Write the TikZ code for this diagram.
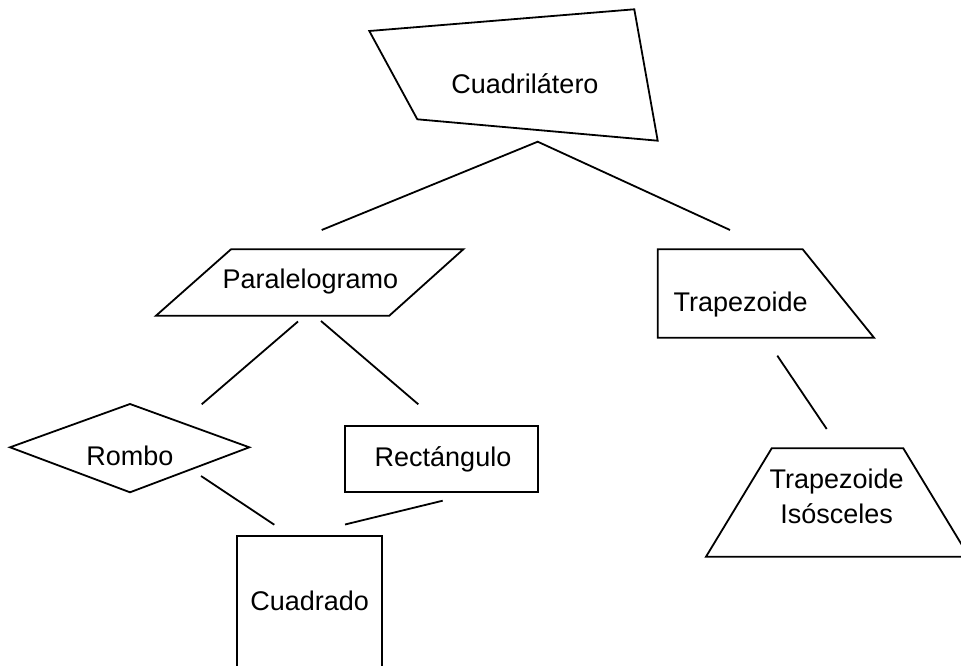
\documentclass[tikz,border=0pt]{standalone}
\usepackage{fontspec}
\setmainfont{Liberation Sans}
\begin{document}
\begin{tikzpicture}[x=1pt,y=-1pt,
  shapeline/.style={draw=black,line width=1.8pt,line join=miter},
  link/.style={draw=black,line width=1.8pt},
  lbl/.style={font=\fontsize{27}{35}\selectfont,anchor=base,inner sep=0pt,align=center}]
\clip (0,0) rectangle (961,666);
\fill[white] (0,0) rectangle (961,666);
% shapes
\draw[shapeline] (369.3,31) -- (634.3,9.3) -- (657.7,140.7) -- (417.3,119.3) -- cycle;
\draw[shapeline] (231,249.3) -- (463.3,249.3) -- (389.3,315.7) -- (156,315.7) -- cycle;
\draw[shapeline] (657.7,249.3) -- (802.7,249.3) -- (874,337.7) -- (657.7,337.7) -- cycle;
\draw[shapeline] (10,447.3) -- (130,404) -- (249.3,447.3) -- (130,492.3) -- cycle;
\draw[shapeline] (345,426) rectangle (538.3,492.3);
\draw[shapeline] (237.3,535.7) rectangle (382.3,690);
\draw[shapeline] (771.7,448.3) -- (903.3,448.3) -- (969,556.7) -- (706,556.7) -- cycle;
% labels
\node[lbl] (cuad) at (525,94) {Cuadrilátero};
\node[lbl] (para) at (310.3,288.3) {Paralelogramo};
\node[lbl] (trap) at (740.7,311.7) {Trapezoide};
\node[lbl] (rombo) at (130,465.7) {Rombo};
\node[lbl] (rect) at (443,466.7) {Rectángulo};
\node[lbl] (cuadrado) at (309.7,610.7) {Cuadrado};
\node[lbl] (tiso) at (836.7,523.3) {Trapezoide\\Isósceles};
% connector ends
\coordinate (peak) at (537.7,141.7);
\coordinate (pL) at (321.7,230);
\coordinate (pR) at (730,230);
\coordinate (a1) at (298,321.5);
\coordinate (a2) at (201.7,404.3);
\coordinate (b1) at (321,321);
\coordinate (b2) at (418.3,404.3);
\coordinate (r1) at (201,476);
\coordinate (r2) at (274.3,524.7);
\coordinate (q1) at (442.7,500.7);
\coordinate (q2) at (345,524.5);
\coordinate (t1) at (777.3,355.7);
\coordinate (t2) at (826.7,429);
% connectors
\draw[link] (pL) -- (peak) -- (pR);
\draw[link] (a1) -- (a2);
\draw[link] (b1) -- (b2);
\draw[link] (r1) -- (r2);
\draw[link] (q1) -- (q2);
\draw[link] (t1) -- (t2);
\end{tikzpicture}
\end{document}
